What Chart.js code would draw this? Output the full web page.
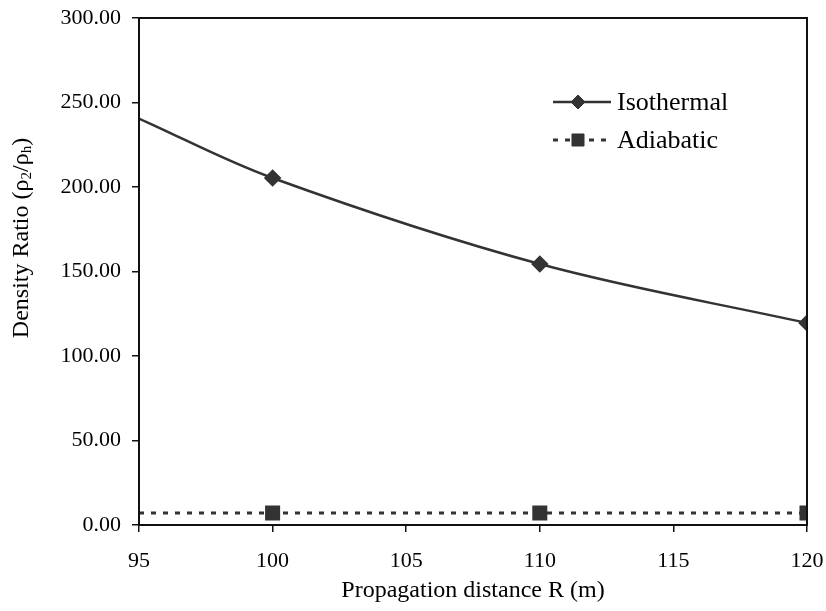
<!DOCTYPE html>
<html>
<head>
<meta charset="utf-8">
<script src="https://cdn.jsdelivr.net/npm/chart.js@4.4.1/dist/chart.umd.min.js"></script>
<style>
  html, body { margin: 0; padding: 0; background: #fff; }
  #wrap { width: 826px; height: 611px; }
</style>
</head>
<body>
<div id="wrap"><canvas id="myChart" width="826" height="611"></canvas></div>
<script>
'use strict';
// ---------- Data ------------- //
let distances = [95, 100, 110, 120];
let isothermal = [240.5, 205.3, 154.4, 119.5];
let adiabatic = [7.1, 7.1, 7.1, 7.1];
let markerShown = [false, true, true, true];
let xTicks = [95, 100, 105, 110, 115, 120];
let yMax = 300;
let yStep = 50;

let serif = '"Liberation Serif", "Times New Roman", serif';
let ink = '#333333';

function toPoints(values){
    return distances.map((d, i) => ({x: d, y: values[i]}));
}

// ---------- Plugins ------------- //
// box around the plot, like the original frame
let frameBox = {
    id: 'frameBox',
    afterDatasetsDraw(chart){
        let a = chart.chartArea;
        let ctx = chart.ctx;
        ctx.save();
        ctx.strokeStyle = '#111';
        ctx.lineWidth = 2;
        ctx.strokeRect(a.left, a.top, a.right - a.left, a.bottom - a.top);
        ctx.restore();
    }
};

// y title with subscripts
let yTitle = {
    id: 'yTitle',
    afterDraw(chart){
        let ctx = chart.ctx;
        let parts = [
            ['Density Ratio (\u03c1', 24, 0],
            ['2', 15, 5],
            ['/\u03c1', 24, 0],
            ['h', 15, 5],
            [')', 24, 0]
        ];
        ctx.save();
        let total = 0;
        parts.forEach(p => {
            ctx.font = p[1] + 'px ' + serif;
            total += ctx.measureText(p[0]).width;
        });
        ctx.translate(22, 238);
        ctx.rotate(-Math.PI / 2);
        ctx.fillStyle = '#000';
        ctx.textBaseline = 'middle';
        let x = -total / 2;
        parts.forEach(p => {
            ctx.font = p[1] + 'px ' + serif;
            ctx.fillText(p[0], x, p[2]);
            x += ctx.measureText(p[0]).width;
        });
        ctx.restore();
    }
};

// legend drawn inside the plot
let insideLegend = {
    id: 'insideLegend',
    afterDraw(chart){
        let ctx = chart.ctx;
        let rows = [102, 140];
        chart.data.datasets.forEach((ds, i) => {
            let y = rows[i];
            ctx.save();
            ctx.strokeStyle = ds.borderColor;
            ctx.lineWidth = ds.borderWidth;
            ctx.setLineDash(ds.borderDash || []);
            ctx.beginPath();
            ctx.moveTo(553, y);
            ctx.lineTo(611, y);
            ctx.stroke();
            ctx.setLineDash([]);
            ctx.fillStyle = ds.pointBackgroundColor;
            ctx.strokeStyle = ds.pointBorderColor;
            ctx.lineWidth = 1;
            Chart.helpers.drawPoint(ctx, {pointStyle: ds.pointStyle, radius: ds.legendRadius, rotation: 0, borderWidth: 1}, 578, y);
            ctx.fillStyle = '#000';
            ctx.font = '26px ' + serif;
            ctx.textBaseline = 'middle';
            ctx.fillText(ds.label, 617, y + 1);
            ctx.restore();
        });
    }
};

// ---------- Chart ------------- //
let chartObject = {
    type: 'line',
    data: {
        datasets: [{
            label: 'Isothermal',
            data: toPoints(isothermal),
            borderColor: ink,
            borderWidth: 2.5,
            tension: 0.35,
            pointStyle: 'rectRot',
            pointRadius: markerShown.map(s => s ? 7 : 0),
            legendRadius: 7,
            pointBackgroundColor: ink,
            pointBorderColor: ink,
            fill: false
        },
        {
            label: 'Adiabatic',
            data: toPoints(adiabatic),
            borderColor: ink,
            borderWidth: 3,
            borderDash: [5, 7],
            pointStyle: 'rect',
            pointRadius: markerShown.map(s => s ? 8.5 : 0),
            legendRadius: 8.5,
            pointBackgroundColor: ink,
            pointBorderColor: ink,
            fill: false
        }]
    },
    options: {
        responsive: false,
        animation: false,
        events: [],
        layout: {padding: {top: 18, right: 19, left: 0, bottom: 0}},
        plugins: {
            legend: {display: false},
            tooltip: {enabled: false}
        },
        scales: {
            x: {
                type: 'linear',
                min: xTicks[0],
                max: xTicks[xTicks.length - 1],
                afterBuildTicks(scale){
                    scale.ticks = xTicks.map(v => ({value: v}));
                },
                afterFit(scale){
                    scale.height = 86;
                    scale.paddingRight = 0;
                    scale.paddingLeft = 0;
                },
                grid: {drawOnChartArea: false, drawTicks: true, tickLength: 7, color: '#111', lineWidth: 1.5},
                border: {display: true, color: '#111', width: 2},
                ticks: {
                    color: '#000',
                    font: {family: serif, size: 22},
                    padding: 16,
                    maxRotation: 0
                },
                title: {
                    display: true,
                    text: 'Propagation distance R (m)',
                    color: '#000',
                    font: {family: serif, size: 24},
                    padding: {top: 0, bottom: 6}
                }
            },
            y: {
                min: 0,
                max: yMax,
                afterFit(scale){
                    scale.width = 139;
                    scale.paddingTop = 0;
                    scale.paddingBottom = 0;
                },
                grid: {drawOnChartArea: false, drawTicks: true, tickLength: 7, color: '#111', lineWidth: 1.5},
                border: {display: true, color: '#111', width: 2},
                ticks: {
                    stepSize: yStep,
                    color: '#000',
                    font: {family: serif, size: 22},
                    padding: 11,
                    callback: v => v.toFixed(2)
                }
            }
        }
    },
    plugins: [frameBox, yTitle, insideLegend]
};

let ctx = document.getElementById('myChart').getContext('2d');
let myChart = new Chart(ctx, chartObject);
</script>
</body>
</html>
